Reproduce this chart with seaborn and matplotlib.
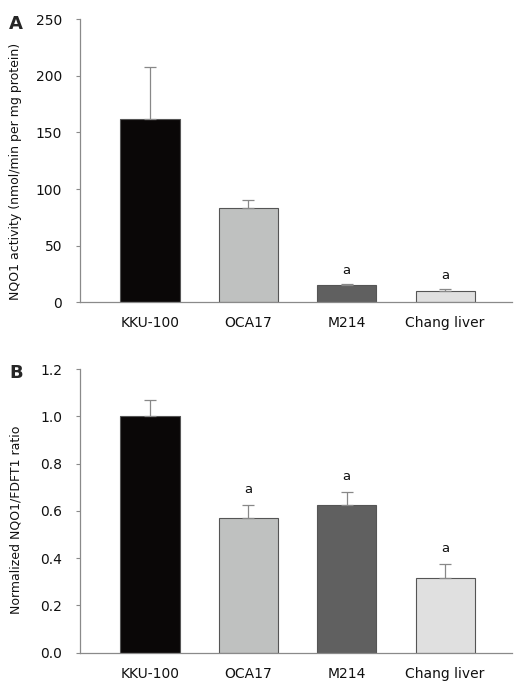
import numpy as np
import pandas as pd
import matplotlib
matplotlib.use("Agg")
import matplotlib.pyplot as plt
import seaborn as sns

# data
cells = ["KKU-100", "OCA17", "M214", "Chang liver"]
nqo1_activity = [162, 83, 15, 10]
nqo1_activity_err = [46, 7, 1, 1.5]
nqo1_ratio = [1.0, 0.57, 0.625, 0.315]
nqo1_ratio_err = [0.07, 0.055, 0.055, 0.06]
sig_a = ["", "", "a", "a"]
sig_b = ["", "a", "a", "a"]

bar_colors = ["#0a0606", "#bfc1c0", "#606060", "#e0e0e0"]

sns.set_style("white")
plt.rcParams["font.family"] = ["DejaVu Sans"]
plt.rcParams["font.size"] = 9

fig = plt.figure(figsize=(5.31, 6.90), dpi=100)
ax1 = fig.add_axes([0.151, 0.562, 0.813, 0.410])
ax2 = fig.add_axes([0.151, 0.054, 0.813, 0.411])


def draw_panel(ax, vals, errs, sig, ymax, yticks, fmt, ylabel, letter, sig_off, label_y):
    df = pd.DataFrame({"cell": cells, "value": vals})
    sns.barplot(data=df, x="cell", y="value", hue="cell", palette=bar_colors,
                width=0.6, edgecolor="#555555", linewidth=0.8, legend=False, ax=ax)
    x = np.arange(len(cells))
    lower = np.zeros(len(vals))
    ax.errorbar(x, vals, yerr=[lower, errs], fmt="none", ecolor="#888888",
                elinewidth=0.9, capsize=4, capthick=0.9)
    for xi, v, e, s in zip(x, vals, errs, sig):
        if s:
            ax.text(xi, v + e + sig_off, s, ha="center", va="bottom", fontsize=9.5, color="#111111")
    ax.set_xlim(-0.71, 3.68)
    ax.set_ylim(0, ymax)
    ax.set_yticks(yticks)
    ax.set_yticklabels([fmt.format(t) for t in yticks])
    ax.set_xlabel("")
    ax.set_ylabel(ylabel, fontsize=9, color="#111111")
    ax.yaxis.set_label_coords(-0.134, label_y)
    sns.despine(ax=ax)
    for sp in ["left", "bottom"]:
        ax.spines[sp].set_color("#8a8a8a")
        ax.spines[sp].set_linewidth(0.9)
    ax.tick_params(axis="y", direction="out", length=3, color="#8a8a8a", labelsize=10,
                   labelcolor="#111111", left=True, pad=10)
    ax.tick_params(axis="x", direction="in", length=3, color="#8a8a8a", labelsize=10,
                   labelcolor="#111111", bottom=True, pad=10)
    ax.text(-0.148, 0.985, letter, transform=ax.transAxes, fontsize=13, fontweight="bold",
            ha="center", va="center")


draw_panel(ax1, nqo1_activity, nqo1_activity_err, sig_a, 250, [0, 50, 100, 150, 200, 250],
           "{:.0f}", "NQO1 activity (nmol/min per mg protein)", "A", 6, 0.463)
draw_panel(ax2, nqo1_ratio, nqo1_ratio_err, sig_b, 1.2, [0.0, 0.2, 0.4, 0.6, 0.8, 1.0, 1.2],
           "{:.1f}", "Normalized NQO1/FDFT1 ratio", "B", 0.04, 0.468)

fig.savefig("out.png", dpi=100)
